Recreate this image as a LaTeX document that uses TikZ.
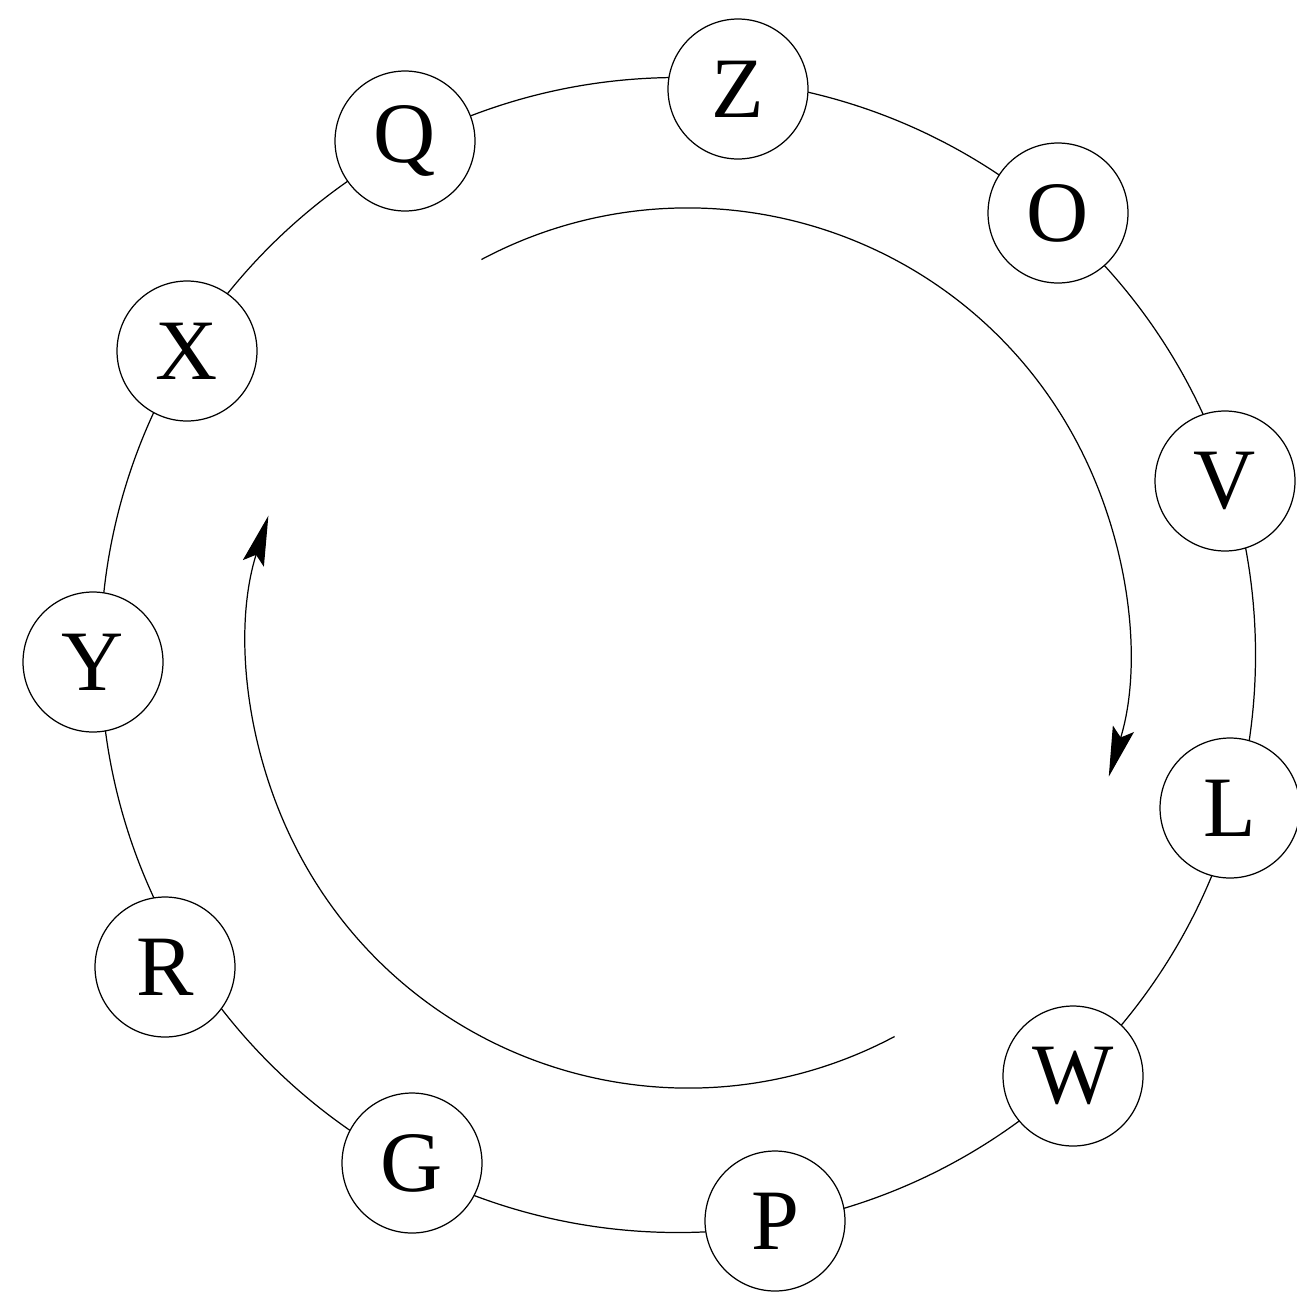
\documentclass[tikz,border=0pt]{standalone}
\usepackage{fontspec}
\setmainfont{Liberation Serif}
\usetikzlibrary{arrows.meta}
\begin{document}
\begin{tikzpicture}[x=0.02cm, y=0.02cm,
  line width=0.7pt,
  ring/.style={circle, draw, fill=white, minimum size=2.8cm, inner sep=0pt,
    font=\fontsize{49}{49}\selectfont},
  flow/.style={-{Stealth[length=1.0cm, width=0.44cm, inset=0.18cm]}}]
  \useasboundingbox (0,0) rectangle (1297,-1295);

  % outer ring the stations sit on
  \coordinate (outer) at (678,-655);
  \draw (outer) circle[radius=577.5];

  % stations
  \node[ring] (Z) at (738,-89)   {Z};
  \node[ring] (O) at (1058,-213) {O};
  \node[ring] (V) at (1225,-481) {V};
  \node[ring] (L) at (1230,-808) {L};
  \node[ring] (W) at (1073,-1076){W};
  \node[ring] (P) at (775,-1221) {P};
  \node[ring] (G) at (412,-1163) {G};
  \node[ring] (R) at (165,-967)  {R};
  \node[ring] (Y) at (93,-662)   {Y};
  \node[ring] (X) at (187,-351)  {X};
  \node[ring] (Q) at (405,-141)  {Q};

  % clockwise direction arrows
  \coordinate (inner) at (688,-648);
  \draw[flow] ([shift={(118:440)}]inner) arc[start angle=118, end angle=-17, radius=440];
  \draw[flow] ([shift={(-62:440)}]inner) arc[start angle=-62, end angle=-197.5, radius=440];
\end{tikzpicture}
\end{document}
